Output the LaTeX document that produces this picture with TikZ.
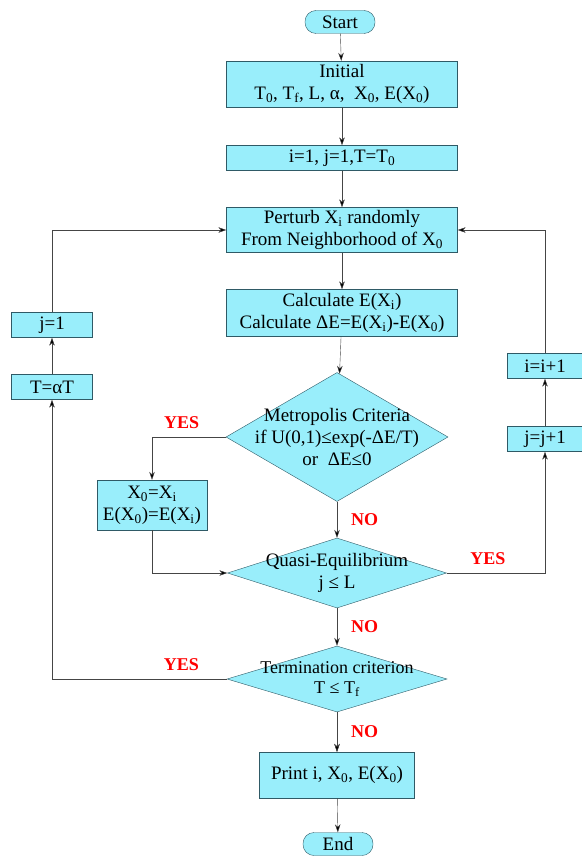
\documentclass[tikz,border=0pt]{standalone}
\usepackage{fontspec}
\setmainfont{Liberation Serif}
\usetikzlibrary{shapes.geometric,arrows.meta}
\definecolor{boxfill}{HTML}{99EEFB}
\definecolor{boxline}{HTML}{2F5A66}
\definecolor{flowline}{HTML}{454545}
\newcommand{\lo}[1]{\textsubscript{#1}}

\begin{document}
\begin{tikzpicture}
  [x=1pt,y=-1pt,font=\fontsize{19}{22}\selectfont,
   every node/.style={inner sep=0pt},
   proc/.style={rectangle,draw=boxline,fill=boxfill,align=center},
   term/.style={rectangle,rounded corners=11pt,draw=boxline,fill=boxfill,minimum width=70pt,minimum height=23pt},
   decide/.style={diamond,draw=boxline,fill=boxfill},
   lbl/.style={text=red,font=\fontsize{18}{20}\selectfont\bfseries},
   flow/.style={draw=flowline,-{Stealth[length=8pt,width=5.5pt,fill=black]}}]
  \useasboundingbox (0,0) rectangle (581,856);
  \node[term] (start) at (340,22) {Start};
  \node[proc,minimum width=231pt,minimum height=46pt] (init) at (342,84) {Initial\\T\lo{0}, T\lo{f}, L, α,\ \ X\lo{0}, E(X\lo{0})};
  \node[proc,minimum width=231pt,minimum height=25pt] (set) at (342,158) {i=1, j=1,T=T\lo{0}};
  \node[proc,minimum width=231pt,minimum height=45pt] (perturb) at (342,230) {Perturb X\lo{i} randomly\\From Neighborhood of X\lo{0}};
  \node[proc,minimum width=231pt,minimum height=47pt] (calc) at (342,313) {Calculate E(X\lo{i})\\Calculate ΔE=E(X\lo{i})-E(X\lo{0})};
  \node[decide,minimum width=222pt,minimum height=129pt] (metro) at (337,437) {};
  \node[align=center] at (metro) {Metropolis Criteria\\if U(0,1)≤exp(-ΔE/T)\\or\ \ ΔE≤0};
  \node[proc,minimum width=110pt,minimum height=50pt] (swap) at (152,505) {X\lo{0}=X\lo{i}\\E(X\lo{0})=E(X\lo{i})};
  \node[decide,minimum width=219pt,minimum height=70pt] (quasi) at (337,573) {};
  \node[align=center] at (quasi) {Quasi-Equilibrium\\j ≤ L};
  \node[decide,minimum width=220pt,minimum height=66pt] (stop) at (337,679) {};
  \node[align=center,font=\fontsize{18}{20}\selectfont] at (stop) {Termination criterion\\T ≤ T\lo{f}};
  \node[proc,minimum width=155pt,minimum height=46pt] (print) at (337,775) {Print i, X\lo{0}, E(X\lo{0})};
  \node[term] (finish) at (338,844) {End};
  \node[proc,minimum width=81pt,minimum height=25pt] (jone) at (52,325) {j=1};
  \node[proc,minimum width=81pt,minimum height=25pt] (cool) at (52,387) {T=αT};
  \node[proc,minimum width=76pt,minimum height=25pt] (iinc) at (545,366) {i=i+1};
  \node[proc,minimum width=76pt,minimum height=25pt] (jinc) at (545,439) {j=j+1};
  % main column
  \foreach \from/\to in {start/init,init/set,set/perturb,perturb/calc,calc/metro,stop/print,print/finish}
    \draw[flow] (\from) -- (\to);
  \draw[flow] (metro) -- node[lbl,right=14pt] {NO} (quasi);
  \draw[flow] (quasi) -- node[lbl,right=14pt] {NO} (stop);
  \draw[flow] (stop) -- node[lbl,right=14pt] {NO} (print);
  % accept branch
  \draw[flow] (metro.west) -| node[lbl,above=8pt,pos=0.3] {YES} (swap.north);
  \draw[flow] (swap.south) |- (quasi.west);
  % inner loop
  \draw[flow] (quasi.east) -| node[lbl,above=8pt,pos=0.21] {YES} (jinc.south);
  \draw[flow] (jinc) -- (iinc);
  \draw[flow] (iinc.north) |- (perturb.east);
  % outer loop
  \draw[flow] (stop.west) -| node[lbl,above=8pt,pos=0.13] {YES} (cool.south);
  \draw[flow] (cool) -- (jone);
  \draw[flow] (jone.north) |- (perturb.west);
\end{tikzpicture}
\end{document}
